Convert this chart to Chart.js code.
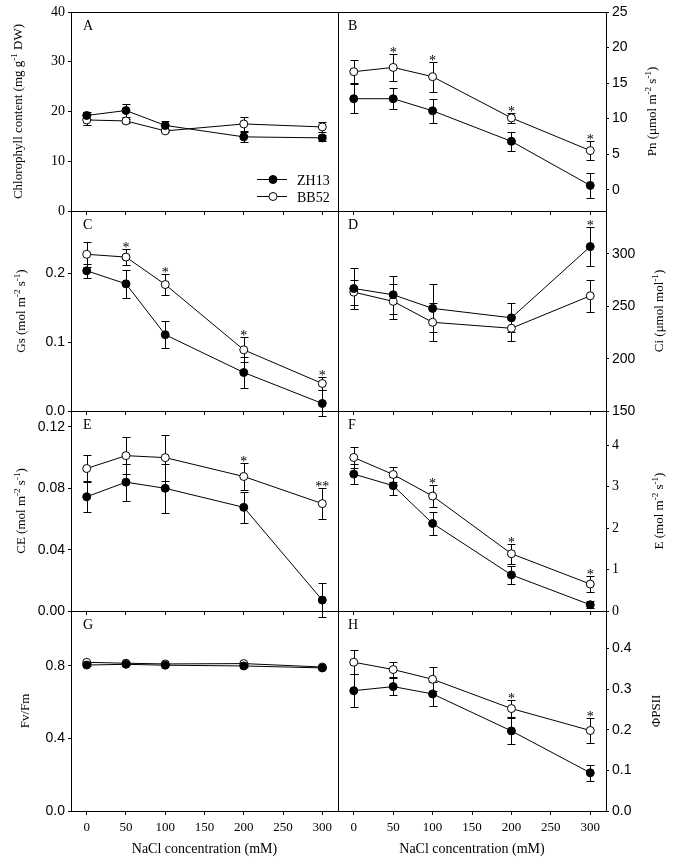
<!DOCTYPE html>
<html>
<head>
<meta charset="utf-8">
<script src="https://cdn.jsdelivr.net/npm/chart.js@4.4.1/dist/chart.umd.min.js"></script>
<style>
  body { margin: 0; background: #fff; }
  #wrap { position: relative; width: 673px; height: 864px; }
  #wrap canvas { position: absolute; left: 0; top: 0; }
</style>
</head>
<body>
<div id="wrap"></div>
<script>
// NaCl levels and axis ticks
const xValues = [0, 50, 100, 200, 300];
const xTicks = [0, 50, 100, 150, 200, 250, 300];
const seriesNames = ['ZH13', 'BB52'];

// A - chlorophyll content
const chlZH13 = [19.2, 20.2, 17.2, 14.9, 14.7];
const chlZH13Err = [0.8, 1.3, 0.9, 1.0, 0.6];
const chlBB52 = [18.3, 18.1, 16.1, 17.5, 16.9];
const chlBB52Err = [1.1, 0.4, 0.3, 1.4, 1.0];
const chlTicks = [0, 10, 20, 30, 40];
const chlStars = ['', '', '', '', ''];

// B - Pn
const pnZH13 = [12.8, 12.8, 11.1, 6.8, 0.6];
const pnZH13Err = [2.0, 1.5, 1.7, 1.3, 1.8];
const pnBB52 = [16.6, 17.2, 15.9, 10.1, 5.5];
const pnBB52Err = [1.6, 1.9, 2.1, 0.7, 1.3];
const pnTicks = [0, 5, 10, 15, 20, 25];
const pnStars = ['', '*', '*', '*', '*'];

// C - Gs
const gsZH13 = [0.204, 0.185, 0.111, 0.056, 0.011];
const gsZH13Err = [0.010, 0.020, 0.020, 0.023, 0.019];
const gsBB52 = [0.228, 0.224, 0.184, 0.089, 0.040];
const gsBB52Err = [0.018, 0.011, 0.015, 0.018, 0.010];
const gsTicks = [0, 0.1, 0.2];
const gsStars = ['', '*', '*', '*', '*'];

// D - Ci
const ciZH13 = [267, 261, 248, 239, 307];
const ciZH13Err = [20, 18, 23, 14, 19];
const ciBB52 = [263.5, 254.7, 234.7, 229, 260];
const ciBB52Err = [12, 17, 18, 12, 15];
const ciTicks = [150, 200, 250, 300];
const ciStars = ['', '', '', '', '*'];

// E - CE
const ceZH13 = [0.0745, 0.084, 0.080, 0.0676, 0.0071];
const ceZH13Err = [0.010, 0.012, 0.016, 0.010, 0.011];
const ceBB52 = [0.0929, 0.1013, 0.100, 0.0877, 0.070];
const ceBB52Err = [0.009, 0.012, 0.015, 0.009, 0.010];
const ceTicks = [0, 0.04, 0.08, 0.12];
const ceStars = ['', '', '', '*', '**'];

// F - E
const eZH13 = [3.30, 3.02, 2.11, 0.87, 0.15];
const eZH13Err = [0.25, 0.22, 0.27, 0.21, 0.08];
const eBB52 = [3.70, 3.29, 2.77, 1.38, 0.65];
const eBB52Err = [0.26, 0.18, 0.27, 0.24, 0.19];
const eTicks = [0, 1, 2, 3, 4];
const eStars = ['', '', '*', '*', '*'];

// G - Fv/Fm
const fvZH13 = [0.805, 0.809, 0.804, 0.800, 0.789];
const fvZH13Err = [0.004, 0.004, 0.004, 0.004, 0.004];
const fvBB52 = [0.820, 0.815, 0.811, 0.813, 0.794];
const fvBB52Err = [0.004, 0.004, 0.004, 0.004, 0.004];
const fvTicks = [0, 0.4, 0.8];
const fvStars = ['', '', '', '', ''];

// H - PhiPSII
const phiZH13 = [0.296, 0.306, 0.288, 0.197, 0.094];
const phiZH13Err = [0.040, 0.020, 0.030, 0.033, 0.019];
const phiBB52 = [0.366, 0.348, 0.324, 0.252, 0.198];
const phiBB52Err = [0.030, 0.018, 0.030, 0.020, 0.030];
const phiTicks = [0, 0.1, 0.2, 0.3, 0.4];
const phiStars = ['', '', '', '*', '*'];

const SERIF = '"Liberation Serif", "Times New Roman", serif';
const SANS = '"Liberation Sans", Arial, sans-serif';
const W = 673, H = 864;
const colLeft = [71, 338], colRight = [338, 606];
const rowTop = [12, 211, 411, 611], rowBottom = [211, 411, 611, 811];

const panels = [
  { letter: 'A', col: 0, row: 0, min: 0, max: 40, ticks: chlTicks, fmt: v => String(v), font: SERIF,
    series: [chlZH13, chlBB52], errs: [chlZH13Err, chlBB52Err], stars: chlStars, starSeries: 1, legend: true,
    title: [['Chlorophyll content (mg g'], ['-1', 1], [' DW)']], titleX: 22 },
  { letter: 'B', col: 1, row: 0, min: -3, max: 25, ticks: pnTicks, fmt: v => String(v), font: SANS,
    series: [pnZH13, pnBB52], errs: [pnZH13Err, pnBB52Err], stars: pnStars, starSeries: 1,
    title: [['Pn (\u03bcmol m'], ['-2', 1], [' s'], ['-1', 1], [')']], titleX: 656 },
  { letter: 'C', col: 0, row: 1, min: 0, max: 0.291, ticks: gsTicks, fmt: v => v.toFixed(1), font: SANS,
    series: [gsZH13, gsBB52], errs: [gsZH13Err, gsBB52Err], stars: gsStars, starSeries: 1,
    title: [['Gs (mol m'], ['-2', 1], [' s'], ['-1', 1], [')']], titleX: 25 },
  { letter: 'D', col: 1, row: 1, min: 150, max: 341, ticks: ciTicks, fmt: v => String(v), font: SANS,
    series: [ciZH13, ciBB52], errs: [ciZH13Err, ciBB52Err], stars: ciStars, starSeries: 0,
    title: [['Ci (\u03bcmol mol'], ['-1', 1], [')']], titleX: 663 },
  { letter: 'E', col: 0, row: 2, min: 0, max: 0.1304, ticks: ceTicks, fmt: v => v.toFixed(2), font: SANS,
    series: [ceZH13, ceBB52], errs: [ceZH13Err, ceBB52Err], stars: ceStars, starSeries: 1,
    title: [['CE (mol m'], ['-2', 1], [' s'], ['-1', 1], [')']], titleX: 25 },
  { letter: 'F', col: 1, row: 2, min: 0, max: 4.82, ticks: eTicks, fmt: v => String(v), font: SERIF,
    series: [eZH13, eBB52], errs: [eZH13Err, eBB52Err], stars: eStars, starSeries: 1,
    title: [['E (mol m'], ['-2', 1], [' s'], ['-1', 1], [')']], titleX: 663 },
  { letter: 'G', col: 0, row: 3, min: 0, max: 1.103, ticks: fvTicks, fmt: v => v.toFixed(1), font: SANS,
    series: [fvZH13, fvBB52], errs: [fvZH13Err, fvBB52Err], stars: fvStars, starSeries: 1,
    title: [['Fv/Fm']], titleX: 29 },
  { letter: 'H', col: 1, row: 3, min: 0, max: 0.492, ticks: phiTicks, fmt: v => v.toFixed(1), font: SANS,
    series: [phiZH13, phiBB52], errs: [phiZH13Err, phiBB52Err], stars: phiStars, starSeries: 1,
    title: [['\u03a6PSII']], titleX: 660 },
];

function drawRich(ctx, segs, x, y, size, rot) {
  ctx.save();
  ctx.translate(x, y);
  ctx.rotate(rot);
  let total = 0;
  const parts = segs.map(([t, sup]) => {
    const fs = sup ? size * 0.7 : size;
    ctx.font = fs + 'px ' + SERIF;
    const w = ctx.measureText(t).width;
    total += w;
    return { t, sup, fs, w };
  });
  let cx = -total / 2;
  ctx.textAlign = 'left';
  ctx.textBaseline = 'alphabetic';
  ctx.fillStyle = '#000';
  parts.forEach(pt => {
    ctx.font = pt.fs + 'px ' + SERIF;
    ctx.fillText(pt.t, cx, pt.sup ? -size * 0.4 : 0);
    cx += pt.w;
  });
  ctx.restore();
}

function makePanel(p, idx) {
  const canvas = document.createElement('canvas');
  canvas.width = W; canvas.height = H;
  canvas.style.width = W + 'px'; canvas.style.height = H + 'px';
  document.getElementById('wrap').appendChild(canvas);

  const yW = 40, xH = 40;
  const padding = {
    left: p.col === 0 ? colLeft[0] - yW : colLeft[1],
    right: p.col === 0 ? W - colRight[0] : W - colRight[1] - yW,
    top: rowTop[p.row],
    bottom: H - rowBottom[p.row] - xH
  };

  const decor = {
    id: 'decor' + idx,
    beforeDatasetsDraw(chart) {
      const { ctx } = chart;
      const xs = chart.scales.x, ys = chart.scales.y;
      ctx.save();
      ctx.strokeStyle = '#000';
      ctx.lineWidth = 1;
      p.errs.forEach((errs, si) => {
        p.series[si].forEach((v, i) => {
          const px = Math.round(xs.getPixelForValue(xValues[i])) + 0.5;
          const y1 = Math.round(ys.getPixelForValue(v + errs[i])) + 0.5;
          const y2 = Math.round(ys.getPixelForValue(v - errs[i])) + 0.5;
          ctx.beginPath();
          ctx.moveTo(px, y1); ctx.lineTo(px, y2);
          ctx.moveTo(px - 4, y1); ctx.lineTo(px + 4, y1);
          ctx.moveTo(px - 4, y2); ctx.lineTo(px + 4, y2);
          ctx.stroke();
        });
      });
      ctx.restore();
    },
    afterDraw(chart) {
      const { ctx, chartArea: a } = chart;
      const xs = chart.scales.x, ys = chart.scales.y;
      ctx.save();
      // frame
      ctx.strokeStyle = '#000';
      ctx.lineWidth = 1;
      ctx.strokeRect(Math.round(a.left) + 0.5, Math.round(a.top) + 0.5,
        Math.round(a.right - a.left), Math.round(a.bottom - a.top));
      // panel letter
      ctx.fillStyle = '#000';
      ctx.font = '14px ' + SERIF;
      ctx.textAlign = 'left';
      ctx.textBaseline = 'alphabetic';
      ctx.fillText(p.letter, a.left + (p.col === 0 ? 12 : 10), a.top + 18);
      // significance marks
      ctx.textAlign = 'center';
      p.stars.forEach((s, i) => {
        if (!s) return;
        const v = p.series[p.starSeries][i] + p.errs[p.starSeries][i];
        const px = xs.getPixelForValue(xValues[i]);
        const py = ys.getPixelForValue(v);
        ctx.fillText(s, px, py + 3);
      });
      // legend
      if (p.legend) {
        chart.data.datasets.forEach((ds, i) => {
          const ly = a.top + 167 + i * 17;
          ctx.beginPath();
          ctx.moveTo(a.left + 186, ly + 0.5);
          ctx.lineTo(a.left + 216, ly + 0.5);
          ctx.stroke();
          ctx.beginPath();
          ctx.arc(a.left + 202, ly + 0.5, 4, 0, Math.PI * 2);
          ctx.fillStyle = ds.pointBackgroundColor;
          ctx.fill();
          ctx.stroke();
          ctx.fillStyle = '#000';
          ctx.textAlign = 'left';
          ctx.font = '14px ' + SERIF;
          ctx.fillText(ds.label, a.left + 226, ly + 5.5);
        });
      }
      ctx.restore();
      // axis titles
      drawRich(ctx, p.title, p.titleX, (a.top + a.bottom) / 2, 13, -Math.PI / 2);
      if (p.row === 3) {
        drawRich(ctx, [['NaCl concentration (mM)']], (a.left + a.right) / 2, 853, 14, 0);
      }
    }
  };

  const datasets = p.series.map((vals, si) => ({
    label: seriesNames[si],
    data: xValues.map((x, i) => ({ x, y: vals[i] })),
    borderColor: '#000',
    borderWidth: 1,
    pointRadius: 4,
    pointHoverRadius: 4,
    pointBorderWidth: 1,
    pointBorderColor: '#000',
    pointBackgroundColor: si === 0 ? '#000' : '#fff',
    tension: 0,
    clip: false
  }));

  new Chart(canvas, {
    type: 'line',
    data: { datasets },
    options: {
      responsive: false,
      devicePixelRatio: 1,
      animation: false,
      events: [],
      layout: { padding },
      plugins: { legend: { display: false }, tooltip: { enabled: false } },
      scales: {
        x: {
          type: 'linear', position: 'bottom', min: -20, max: 320,
          afterBuildTicks: s => { s.ticks = xTicks.map(v => ({ value: v })); },
          afterFit: s => { s.height = xH; },
          ticks: { display: p.row === 3, color: '#000', font: { family: SERIF, size: 13 },
            padding: 5, autoSkip: false, maxRotation: 0 },
          grid: { display: true, drawOnChartArea: false, drawTicks: true, tickLength: 4, color: '#000' },
          border: { display: false }
        },
        y: {
          type: 'linear', position: p.col === 0 ? 'left' : 'right', min: p.min, max: p.max,
          afterBuildTicks: s => { s.ticks = p.ticks.map(v => ({ value: v })); },
          afterFit: s => { s.width = yW; },
          ticks: { color: '#000', font: { family: p.font, size: 14 }, padding: 3,
            autoSkip: false, callback: v => p.fmt(v) },
          grid: { display: true, drawOnChartArea: false, drawTicks: true, tickLength: 3, color: '#000' },
          border: { display: false }
        }
      }
    },
    plugins: [decor]
  });
}

panels.forEach(makePanel);
</script>
</body>
</html>
